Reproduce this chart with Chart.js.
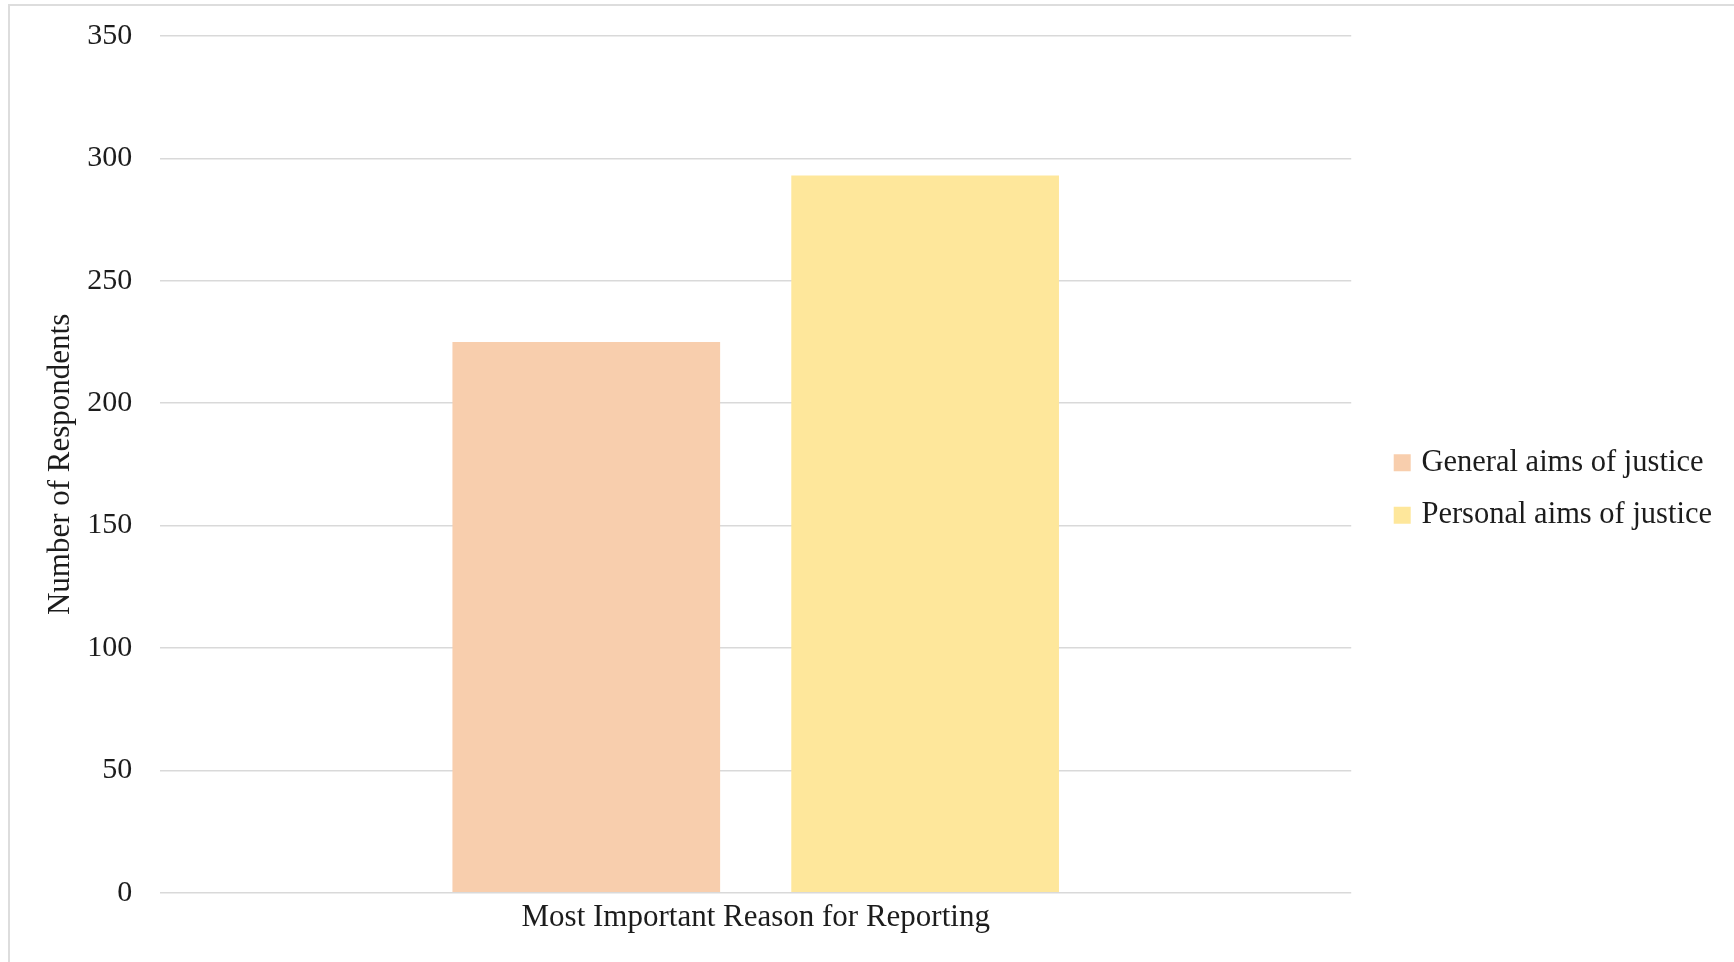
<!DOCTYPE html>
<html>
<head>
<meta charset="utf-8">
<script src="https://cdn.jsdelivr.net/npm/chart.js@4"></script>
<style>
  html, body { margin: 0; padding: 0; background: #fff; overflow: hidden; }
  #frame {
    position: absolute; left: 8px; top: 4px; width: 1760px; height: 990px;
    border: 2px solid #dddddd; box-sizing: border-box;
  }
  #wrap { position: absolute; left: 0; top: 0; width: 1734px; height: 962px; }
</style>
</head>
<body>
<div id="frame"></div>
<div id="wrap"><canvas id="reason-canvas"></canvas></div>
<script>
const categories = ["Most Important Reason for Reporting"];
const seriesNames = ["General aims of justice", "Personal aims of justice"];
const generalAims = [225];
const personalAims = [293];
const seriesColors = ["#f8cead", "#fee79b"];
const yMax = 350;
const yStep = 50;

const serif = "'Liberation Serif', 'Times New Roman', serif";
const ink = "#1c1c1c";

new Chart(document.getElementById("reason-canvas"), {
  type: "bar",
  data: {
    labels: categories,
    datasets: [
      {
        label: seriesNames[0],
        data: generalAims,
        backgroundColor: seriesColors[0],
        borderWidth: 0,
      },
      {
        label: seriesNames[1],
        data: personalAims,
        backgroundColor: seriesColors[1],
        borderWidth: 0,
      },
    ],
  },
  options: {
    responsive: true,
    maintainAspectRatio: false,
    animation: false,
    categoryPercentage: 0.569,
    barPercentage: 0.79,
    layout: {
      padding: { left: 41, top: 36, right: 12, bottom: 20 },
    },
    plugins: {
      tooltip: { enabled: false },
      legend: {
        position: "right",
        align: "center",
        maxWidth: 420,
        onClick: () => {},
        labels: {
          usePointStyle: true,
          pointStyle: "rect",
          boxWidth: 8,
          boxHeight: 17,
          padding: 22,
          color: ink,
          font: { family: serif, size: 30.5 },
        },
      },
    },
    scales: {
      x: {
        grid: { display: false, drawTicks: false },
        border: { display: false },
        ticks: {
          padding: 6,
          color: ink,
          font: { family: serif, size: 31 },
        },
        // the one wide category label sits centred, no side overflow
        afterFit: (axis) => {
          axis.paddingLeft = 0;
          axis.paddingRight = 0;
        },
      },
      y: {
        min: 0,
        max: yMax,
        ticks: {
          stepSize: yStep,
          padding: 8,
          color: ink,
          font: { family: serif, size: 30 },
        },
        grid: {
          color: "#d9d9d9",
          lineWidth: 1.5,
          drawTicks: true,
          tickLength: 20,
          tickColor: "rgba(0,0,0,0)",
        },
        border: { display: false },
        title: {
          display: true,
          text: "Number of Respondents",
          color: ink,
          padding: { top: 1, bottom: 0 },
          font: { family: serif, size: 31 },
        },
      },
      // empty spacer between the plot and the legend
      gap: {
        position: "right",
        display: true,
        grid: { display: false, drawTicks: false },
        border: { display: false },
        ticks: { display: false },
        afterFit: (axis) => {
          axis.width = 25;
        },
      },
    },
  },
});
</script>
</body>
</html>
